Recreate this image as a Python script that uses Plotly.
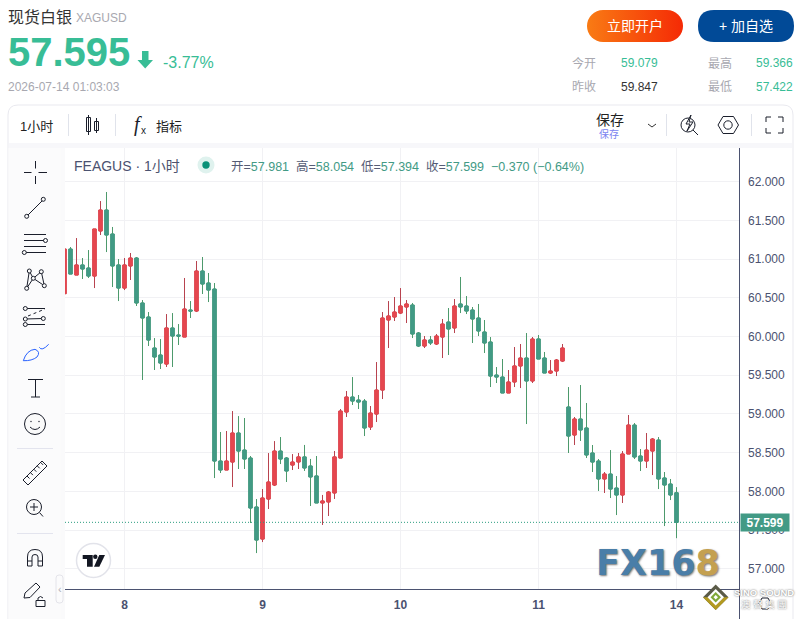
import base64
import plotly.graph_objects as go

# ---------- data ----------
opens = [60.553,61.130,60.794,60.924,60.885,60.781,61.363,61.634,61.324,60.924,60.626,60.911,61.014,60.433,60.252,59.851,59.761,59.644,60.110,60.019,59.993,60.342,60.329,60.846,60.691,60.613,
58.391,58.275,58.378,58.753,58.533,58.430,57.797,57.383,57.900,58.081,58.520,58.430,58.339,58.379,58.444,58.327,58.198,57.849,57.862,57.978,
58.430,59.024,59.218,59.179,59.166,58.830,58.998,59.308,60.213,60.252,60.303,60.381,60.407,60.045,59.877,59.955,59.903,59.993,60.187,60.110,60.420,60.394,60.342,60.239,60.058,59.929,59.502,59.476,59.270,59.412,59.619,59.722,59.425,
59.968,59.722,59.528,59.554,59.683,59.089,58.727,58.934,58.818,58.495,58.391,58.159,58.223,58.042,57.952,58.482,58.856,58.456,58.391,58.520,58.662,58.172,58.094,57.981]
highs = [61.130,61.156,61.272,61.014,61.117,61.389,61.750,61.867,61.415,61.001,61.014,61.079,61.027,60.471,60.316,59.980,59.967,60.290,60.303,60.161,60.756,60.458,60.975,61.027,60.820,60.691,
58.766,58.779,59.037,58.972,58.947,58.456,57.900,58.029,58.494,58.649,58.701,58.443,58.481,58.495,58.599,58.418,58.456,57.953,58.004,58.521,
59.063,59.296,59.476,59.244,59.192,59.102,59.670,60.316,60.458,60.510,60.626,60.471,60.433,60.058,60.006,60.006,60.032,60.226,60.368,60.484,60.769,60.523,60.381,60.420,60.213,59.993,59.606,59.709,59.567,59.864,59.903,60.045,59.993,
60.019,59.800,59.696,59.709,59.903,59.347,58.960,59.373,59.141,58.598,58.417,58.249,58.533,58.197,58.520,58.986,58.882,58.546,58.753,58.688,58.701,58.249,58.159,58.054]
lows = [60.553,60.807,60.794,60.743,60.756,60.626,61.311,61.091,60.639,60.458,60.600,60.730,60.394,59.438,59.877,59.567,59.580,59.606,59.606,59.890,59.993,60.239,60.316,60.549,60.445,58.171,
58.236,58.275,58.055,58.288,58.288,57.590,57.202,57.344,57.771,58.068,58.352,58.120,58.275,58.288,58.263,57.810,57.849,57.565,57.681,57.901,
58.430,58.960,59.115,59.063,58.714,58.792,58.895,59.192,59.851,60.200,60.290,60.174,59.980,59.864,59.851,59.890,59.890,59.722,59.761,60.045,60.303,60.290,59.916,60.006,59.787,59.347,59.399,59.270,59.270,59.347,59.334,58.869,59.399,
59.709,59.528,59.515,59.489,59.670,58.495,58.598,58.650,58.430,58.249,58.004,57.978,57.913,57.693,57.849,58.482,58.417,58.262,58.301,58.210,58.029,57.551,57.887,57.394]
closes = [61.130,60.807,60.924,60.872,60.781,61.389,61.634,61.311,60.911,60.626,60.924,61.014,60.433,60.239,59.954,59.735,59.657,60.110,60.006,60.006,60.355,60.329,60.846,60.678,60.600,58.391,
58.275,58.391,58.753,58.520,58.417,57.784,57.370,57.913,58.120,58.520,58.417,58.262,58.378,58.444,58.301,58.185,57.849,57.875,57.991,58.444,
59.037,59.218,59.166,59.153,58.818,59.011,59.308,60.239,60.265,60.316,60.394,60.420,60.032,59.877,59.955,59.916,60.006,60.161,60.097,60.394,60.381,60.329,60.226,60.071,59.916,59.489,59.476,59.270,59.412,59.619,59.722,59.425,59.967,
59.709,59.528,59.554,59.696,59.851,58.714,58.934,58.792,58.469,58.378,58.159,58.223,58.029,57.952,58.482,58.856,58.443,58.391,58.533,58.675,58.159,58.081,57.952,57.599]
indices = list(range(len(opens)))
day_positions = [10, 33, 56, 79, 102]
day_labels = ["8", "9", "10", "11", "14"]
price_ticks = [57.0, 57.5, 58.0, 58.5, 59.0, 59.5, 60.0, 60.5, 61.0, 61.5, 62.0]
last_price = 57.599

UP, UP_W = "#e5474f", "#b8434f"
DN, DN_W = "#429a85", "#4d9a6c"
INK = "#1a1e2b"
AXIS = "#4b5270"
GRID = "#f1f1f4"
TXT_G = "#38bd96"
GREY = "#a8a8b0"
SANS = "Liberation Sans, Noto Sans CJK SC"

W, H = 802, 619
fig = go.Figure()

# pixel axes (x, y) for page furniture, drawn first so the chart sits over its lower layer
fig.add_trace(go.Scatter(x=[None], y=[None], showlegend=False, hoverinfo="skip"))
# wicks
fig.add_trace(go.Candlestick(x=indices, open=opens, high=highs, low=lows, close=closes,
    xaxis="x2", yaxis="y2",
    increasing=dict(line=dict(color=UP_W, width=1), fillcolor=UP),
    decreasing=dict(line=dict(color=DN_W, width=1), fillcolor=DN),
    whiskerwidth=0, hoverinfo="skip", showlegend=False))
# bodies
fig.add_trace(go.Candlestick(x=indices, open=opens, close=closes,
    high=[max(o, c) for o, c in zip(opens, closes)],
    low=[min(o, c) for o, c in zip(opens, closes)],
    xaxis="x2", yaxis="y2",
    increasing=dict(line=dict(color=UP, width=1), fillcolor=UP),
    decreasing=dict(line=dict(color=DN, width=1), fillcolor=DN),
    whiskerwidth=0, hoverinfo="skip", showlegend=False))

shapes, anns, images = [], [], []

def L(x0, y0, x1, y1, c=INK, w=1, dash=None, layer="above"):
    shapes.append(dict(type="line", xref="x", yref="y", x0=x0, y0=y0, x1=x1, y1=y1, layer=layer,
                       line=dict(color=c, width=w, dash=dash or "solid")))
def R(x0, y0, x1, y1, fill=None, c=None, w=1, layer="above"):
    shapes.append(dict(type="rect", xref="x", yref="y", x0=x0, y0=y0, x1=x1, y1=y1, layer=layer,
                       fillcolor=fill or "rgba(0,0,0,0)", line=dict(color=c or "rgba(0,0,0,0)", width=w if c else 0)))
def C(cx, cy, r, fill="#fafafa", c=INK, w=1, layer="above"):
    shapes.append(dict(type="circle", xref="x", yref="y", x0=cx-r, y0=cy-r, x1=cx+r, y1=cy+r, layer=layer,
                       fillcolor=fill, line=dict(color=c or "rgba(0,0,0,0)", width=w if c else 0)))
def P(d, fill=None, c=INK, w=1, layer="above"):
    shapes.append(dict(type="path", xref="x", yref="y", path=d, layer=layer,
                       fillcolor=fill or "rgba(0,0,0,0)", line=dict(color=c or "rgba(0,0,0,0)", width=w if c else 0)))
def rr(x0, y0, x1, y1, r):
    return (f"M{x0+r},{y0} L{x1-r},{y0} Q{x1},{y0} {x1},{y0+r} L{x1},{y1-r} Q{x1},{y1} {x1-r},{y1} "
            f"L{x0+r},{y1} Q{x0},{y1} {x0},{y1-r} L{x0},{y0+r} Q{x0},{y0} {x0+r},{y0} Z")
def T(x, y, text, size=12, color="#333", anchor="left", family=SANS, weight=None, shadow=None):
    f = dict(size=size, color=color, family=family)
    if weight: f["weight"] = weight
    if shadow: f["shadow"] = shadow
    anns.append(dict(xref="x", yref="y", x=x, y=y, text=text, showarrow=False, xanchor=anchor,
                     yanchor="middle", font=f, borderpad=0, borderwidth=0))

# ---- panel / backgrounds ----
P(rr(8, 105, 793, 640, 10), fill="#ffffff", c="#e9e9ef", w=1, layer="below")
R(9, 143, 792, 148, fill="#f7f7fa", layer="below")
R(9, 148, 65, 619, fill="#fafafb", layer="below")
R(8.5, 148, 60.5, 619, fill="#fbfbfc", layer="below")

# ---- header ----
T(8, 17, "现货白银", 16, "#333333")
T(76, 18, "XAGUSD", 12, GREY)
T(8, 52, "57.595", 40, TXT_G, weight=700)
P("M142,51 L148.5,51 L148.5,60 L153,60 L145.2,68.5 L137.5,60 L142,60 Z", fill=TXT_G, c=None)
T(163, 62, "-3.77%", 16, TXT_G)
T(8, 87, "2026-07-14 01:03:03", 12, GREY)

svg = ('<svg xmlns="http://www.w3.org/2000/svg" width="96" height="32"><defs><linearGradient id="g">'
       '<stop offset="0" stop-color="#f97b14"/><stop offset="1" stop-color="#f52a05"/></linearGradient></defs>'
       '<rect width="96" height="32" rx="16" fill="url(#g)"/></svg>')
images.append(dict(source="data:image/svg+xml;base64," + base64.b64encode(svg.encode()).decode(),
                   xref="x", yref="y", x=587, y=10, sizex=96, sizey=32, sizing="stretch",
                   xanchor="left", yanchor="top", layer="above"))
T(635, 26, "立即开户", 14, "#ffffff", "center")
P(rr(698, 10, 794, 42, 16), fill="#014a97", c=None)
T(746, 26, "+ 加自选", 14, "#ffffff", "center")

T(572, 63, "今开", 12, GREY); T(621, 63, "59.079", 12, TXT_G)
T(708, 63, "最高", 12, GREY); T(756, 63, "59.366", 12, TXT_G)
T(572, 87, "昨收", 12, GREY); T(621, 87, "59.847", 12, "#333333")
T(708, 87, "最低", 12, GREY); T(756, 87, "57.422", 12, TXT_G)

# ---- top toolbar ----
T(20, 126, "1小时", 13, "#222222")
for sx in (68.5, 115.5, 666.5, 751.5):
    L(sx, 114, sx, 136, "#e0e3eb")
R(86.5, 117.5, 90.5, 131.5, c=INK); L(88.5, 115, 88.5, 135, INK)
R(94.5, 121.5, 98.5, 130.5, c=INK); L(96.5, 118, 96.5, 133, INK)
T(138, 124, "<i>f</i>", 20, INK, "center", family="Liberation Serif")
T(143, 130, "x", 10, INK, "center")
T(156, 126, "指标", 13, "#222222")
T(596, 120, "保存", 14, "#222222")
T(599, 134, "保存", 10, "#7b83f0")
P("M648,124 L652,127 L656,124", c="#333333")
C(688, 125, 7, fill="#ffffff"); L(693, 130, 698, 135, INK)
P("M691,115 L686,124 L690,124 L687,131 L693,122 L689,122 Z", fill="#ffffff", c=INK)
P("M718,125 L723,116.5 L733.5,116.5 L738.5,125 L733.5,133.5 L723,133.5 Z", fill="#ffffff", c=INK)
C(728, 125, 4.2, fill="#ffffff")
for a, b, c_, d in ((766, 122, 766, 117), (766, 117, 771, 117), (778, 117, 783, 117), (783, 117, 783, 122),
                    (783, 128, 783, 133), (783, 133, 778, 133), (771, 133, 766, 133), (766, 133, 766, 128)):
    L(a, b, c_, d, INK)

# ---- left toolbar ----
L(24, 172.5, 31.5, 172.5); L(38.5, 172.5, 47, 172.5); L(35.5, 161, 35.5, 168.5); L(35.5, 176, 35.5, 184)
L(27, 216, 43, 200); C(26.7, 216.3, 2); C(43.3, 199.3, 2)
for yy in (234.5, 240.5, 246.5, 252.5):
    L(24, yy, 46, yy)
C(45.5, 240.5, 2); C(24.3, 252.5, 2)
pts = [(26.7, 288.3), (29.3, 271), (33.3, 278.3), (41.3, 271.7), (44.3, 285.7)]
P(f"M{pts[0][0]},{pts[0][1]} L{pts[1][0]},{pts[1][1]} L{pts[2][0]},{pts[2][1]} L{pts[3][0]},{pts[3][1]} L{pts[4][0]},{pts[4][1]} L{pts[2][0]},{pts[2][1]} Z")
for p in pts:
    C(p[0], p[1], 2)
L(25, 308.5, 45, 308.5); L(25, 319, 43, 318.5); L(25, 324.5, 45, 324.5)
L(28, 316, 45, 309, INK, 1, "dot")
C(25.3, 308.5, 2); C(25.3, 319, 2); C(25.3, 324.5, 2); C(43.3, 318.5, 2)
BLUE = "#2962ff"
P("M23.3,360.7 Q26.7,350 35,349.3 Q41,351.7 37,357 Q32,361 23.3,360.7 Z", c=BLUE)
P("M39.3,347.3 Q41.7,351.7 48.7,344.3", c=BLUE)
L(28, 379.5, 43, 379.5); L(35.5, 379.5, 35.5, 397); L(31, 397, 40, 397)
C(35, 424, 10.5)
C(31, 421.5, 0.7, fill=INK, c=None); C(39, 421.5, 0.7, fill=INK, c=None)
P("M30,427 Q35,432 40,427")
L(17, 448.5, 53, 448.5, "#e3e4ee")
P("M23,480 L42,461 L47,466 L28,485 Z")
for k in range(5):
    L(27+k*3.4, 476-k*3.4, 29.5+k*3.4, 478.5-k*3.4)
C(34, 507, 7.5); L(39.5, 512.5, 43, 516.5)
L(30, 507, 38, 507); L(34, 503, 34, 511)
L(17, 533.5, 53, 533.5, "#e3e4ee")
P("M27.5,566 L27.5,557 Q27.5,549.5 35,549.5 Q42.5,549.5 42.5,557 L42.5,566 L38,566 L38,557 Q38,554.5 35,554.5 Q32,554.5 32,557 L32,566 Z")
L(27.5, 561, 32, 561); L(38, 561, 42.5, 561)
P("M24,598 L25,593 L36,583 L40,587 L30,597.5 Z")
P("M36,600.5 L45,600.5 L45,606.5 L36,606.5 Z")
P("M38,600.5 L38,598 Q40.5,595 43,598")
P(rr(56, 575, 63, 603, 3), fill="#fbfbfc", c="#e4e4ea")
T(59.5, 589, "‹", 11, "#b0b0b8", "center")

# ---- legend row ----
T(74, 166, "FEAGUS · 1小时", 14, AXIS)
C(206, 165, 8.5, fill="#dff2ee", c=None)
C(206, 165, 3.7, fill="#0a9178", c=None)
v = lambda s: f'<span style="color:{DN}">{s}</span>'
T(231, 166, "开=" + v("57.981") + "  高=" + v("58.054") + "  低=" + v("57.394") + "  收=" + v("57.599") +
  "  " + v("−0.370 (−0.64%)"), 12.5, "#555c75")

# ---- axis furniture ----
L(739.5, 148, 739.5, 619, AXIS)
L(65, 589.5, 739, 589.5, AXIS)
shapes.append(dict(type="line", xref="x2", yref="y2", x0=0.083, x1=112.417, y0=last_price, y1=last_price,
                   line=dict(color="#2b9d7f", width=1, dash="1px,2px"), layer="above"))
anns.append(dict(xref="x", yref="y2", x=740, y=last_price, text=f"{last_price:.3f}", showarrow=False,
                 xanchor="left", yanchor="middle", width=48, height=17, bgcolor=DN, borderpad=0,
                 font=dict(size=12, color="#ffffff", family=SANS, weight=600)))

# ---- TradingView badge ----
C(93.5, 560.5, 17, fill="#ffffff", c="#e2e3ea", w=1.5)
P("M82.7,555 L92.7,555 L92.7,566.7 L87,566.7 L87,559 L82.7,559 Z", fill="#131722", c=None)
C(95.3, 556.8, 2.2, fill="#131722", c=None)
P("M99.3,555 L105,555 L99.3,566.7 L94,566.7 Z", fill="#131722", c=None)

# ---- FX168 logo ----
T(596, 562.5, '<span style="color:#4a7ea8">FX16</span><span style="color:#c4a050">8</span>', 35, "#4a7ea8",
  family="DejaVu Sans", weight=800, shadow="1px 1px 2px #777777")

# ---- Sino Sound logo ----
P("M715.7,584.5 L728.5,597.3 L715.7,610 L703,597.3 Z", fill="#5b5b48", c=None)
P("M728.5,597.3 L715.7,610 L703,597.3 L708,597.3 L715.7,605 L723.5,597.3 Z", fill="#b39a20", c=None)
P("M715.7,589 L724,597.3 L715.7,605.5 L707.5,597.3 Z", fill="#ffffff", c=None)
P("M715.7,592 L721,597.3 L715.7,602.5 L710.5,597.3 Z", fill="#80a838", c=None)
P("M715.7,595 L718,597.3 L715.7,599.5 L713.5,597.3 Z", fill="#ffffff", c=None)
T(763.5, 592, "SINO SOUND", 9.5, "#ffffff", "center", weight=700, shadow="0 0 2px #555555")
T(763.5, 604, "澳 聲 集 團", 9.5, "#ffffff", "center", shadow="0 0 2px #555555")
P("M759,603.5 L762,598 L768,598 L771,603.5 L768,609 L762,609 Z", fill="rgba(0,0,0,0)", c=INK)

fig.update_layout(
    width=W, height=H, margin=dict(l=0, r=0, t=0, b=0), autosize=False,
    paper_bgcolor="#ffffff", plot_bgcolor="rgba(0,0,0,0)", showlegend=False,
    boxmode="overlay", boxgap=0.2, hovermode=False, dragmode=False,
    shapes=shapes, annotations=anns, images=images,
    xaxis=dict(domain=[0, 1], range=[0, W], visible=False, anchor="y", fixedrange=True),
    yaxis=dict(domain=[0, 1], range=[H, 0], visible=False, anchor="x", fixedrange=True),
    xaxis2=dict(domain=[65/W, 739/W], range=[0.083, 112.417], tickvals=day_positions, ticktext=day_labels,
               showgrid=True, gridcolor=GRID, gridwidth=1, zeroline=False, showline=False, ticks="",
               rangeslider=dict(visible=False), anchor="y2", fixedrange=True,
               ticklabelstandoff=7, tickfont=dict(size=12, color=AXIS, family=SANS, weight=700)),
    yaxis2=dict(domain=[1-589/H, 1-148/H], side="right", anchor="x2",
               range=[62-(589-181.7)/77.4, 62+(181.7-148)/77.4], tickvals=price_ticks, tickformat=".3f",
               showgrid=True, gridcolor=GRID, gridwidth=1, zeroline=False, showline=False, ticks="",
               fixedrange=True, ticklabelstandoff=8, tickfont=dict(size=12, color=AXIS, family=SANS)),
)
fig.write_html("out.html", config=dict(displayModeBar=False),
               post_script="document.body.style.margin='0';document.documentElement.style.overflow='hidden';")
